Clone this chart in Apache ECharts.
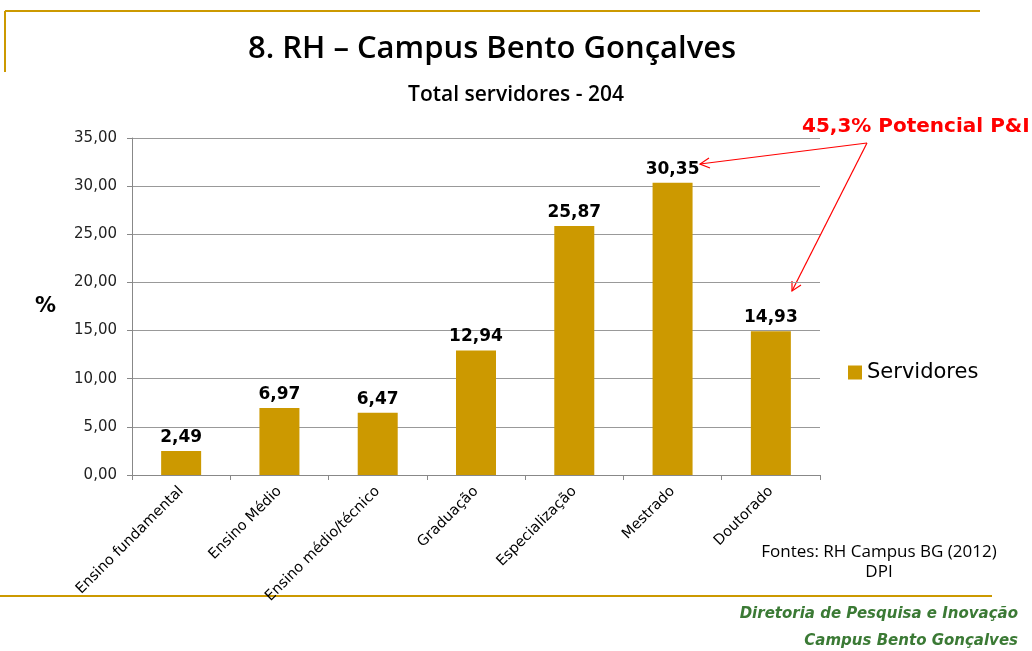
<!DOCTYPE html>
<html>
<head>
<meta charset="utf-8">
<script src="https://cdn.jsdelivr.net/npm/echarts@6/dist/echarts.min.js"></script>
<style>
  html, body { margin: 0; padding: 0; background: #fff; }
  #chart { width: 1032px; height: 651px; }
</style>
</head>
<body>
<div id="chart"></div>
<script>
var categories = ['Ensino fundamental', 'Ensino Médio', 'Ensino médio/técnico', 'Graduação', 'Especialização', 'Mestrado', 'Doutorado'];
var servidores = [2.49, 6.97, 6.47, 12.94, 25.87, 30.35, 14.93];
var yTicks = { min: 0, max: 35, interval: 5 };

var gold = '#CC9900';
var wide = 'DejaVu Sans, Verdana, sans-serif';
var chart = echarts.init(document.getElementById('chart'));

function fmt(v) { return v.toFixed(2).replace('.', ','); }

chart.setOption({
    animation: false,
    textStyle: { fontFamily: wide },
    title: [
        {
            text: '8. RH – Campus Bento Gonçalves',
            left: 243, top: 29,
            textStyle: { fontFamily: 'Open Sans, sans-serif', fontSize: 31, fontWeight: 600, color: '#000' }
        },
        {
            text: 'Total servidores - 204',
            left: 'center', top: 80,
            textStyle: { fontFamily: 'Open Sans, sans-serif', fontSize: 21, fontWeight: 600, color: '#000' }
        }
    ],
    legend: {
        data: ['Servidores'],
        left: 843, top: 357,
        icon: 'rect', itemWidth: 14, itemHeight: 14, itemGap: 7,
        textStyle: { fontSize: 21, color: '#000', fontFamily: wide }
    },
    grid: { left: 132, right: 212, top: 138, bottom: 176 },
    xAxis: {
        type: 'category',
        data: categories,
        axisLine: { lineStyle: { color: '#888' } },
        axisTick: { show: true, length: 5, lineStyle: { color: '#888' } },
        axisLabel: { rotate: 45, fontSize: 14.5, color: '#000', margin: 14, interval: 0 }
    },
    yAxis: {
        type: 'value',
        min: yTicks.min, max: yTicks.max, interval: yTicks.interval,
        name: '%',
        nameLocation: 'middle', nameRotate: 0, nameGap: 76,
        nameTextStyle: { fontSize: 21, fontWeight: 'bold', color: '#000' },
        axisLine: { show: true, lineStyle: { color: '#888' } },
        axisTick: { show: true, length: 5, lineStyle: { color: '#888' } },
        axisLabel: { fontSize: 15, color: '#222', margin: 15, formatter: fmt },
        splitLine: { lineStyle: { color: '#999' } }
    },
    series: [{
        name: 'Servidores',
        type: 'bar',
        data: servidores,
        barWidth: 40,
        itemStyle: { color: gold },
        label: {
            show: true, position: 'top', distance: 5,
            fontSize: 17, fontWeight: 'bold', color: '#000',
            formatter: function (p) { return fmt(p.value); }
        }
    }],
    graphic: [
        { type: 'line', shape: { x1: 5, y1: 11, x2: 980, y2: 11 }, style: { stroke: gold, lineWidth: 2 } },
        { type: 'line', shape: { x1: 5, y1: 11, x2: 5, y2: 72 }, style: { stroke: gold, lineWidth: 2 } },
        { type: 'line', shape: { x1: 0, y1: 596, x2: 992, y2: 596 }, style: { stroke: gold, lineWidth: 2 } },
        {
            type: 'text', x: 802, y: 117,
            style: { text: '45,3% Potencial P&I', fill: '#FF0000', font: 'bold 20px ' + wide }
        },
        { type: 'line', shape: { x1: 867, y1: 143, x2: 700, y2: 164 }, style: { stroke: '#FF0000', lineWidth: 1.2 } },
        { type: 'polyline', shape: { points: [[709, 158], [700, 164], [710, 168]] }, style: { stroke: '#FF0000', lineWidth: 1.2, fill: null } },
        { type: 'line', shape: { x1: 867, y1: 143, x2: 792, y2: 291 }, style: { stroke: '#FF0000', lineWidth: 1.2 } },
        { type: 'polyline', shape: { points: [[792, 281], [792, 291], [801, 285]] }, style: { stroke: '#FF0000', lineWidth: 1.2, fill: null } },
        {
            type: 'text', x: 879, y: 542,
            style: { text: 'Fontes: RH Campus BG (2012)\nDPI', align: 'center', fill: '#000', lineHeight: 20, font: '17px Open Sans, sans-serif' }
        },
        {
            type: 'text', x: 1018, y: 607,
            style: { text: 'Diretoria de Pesquisa e Inovação', align: 'right', fill: '#3B7A35', font: 'italic bold 15px ' + wide }
        },
        {
            type: 'text', x: 1018, y: 634,
            style: { text: 'Campus Bento Gonçalves', align: 'right', fill: '#3B7A35', font: 'italic bold 15px ' + wide }
        }
    ]
});
</script>
</body>
</html>
